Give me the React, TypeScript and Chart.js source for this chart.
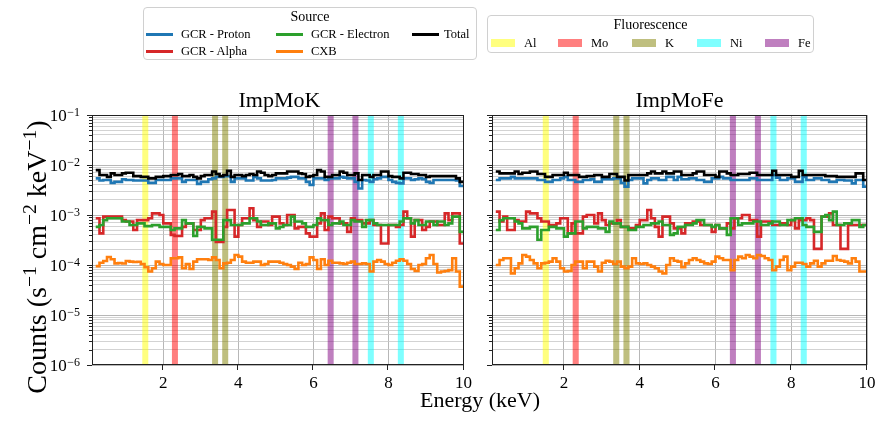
import React, { useEffect, useRef } from "react";
import { Chart, registerables } from "chart.js";

Chart.register(...registerables);

const SERIF = "'Liberation Serif', 'Times New Roman', serif";

// ---------- axes ----------
const X_MIN = 0.1;
const X_MAX = 10;
const X_TICKS = [2, 4, 6, 8, 10];
const Y_MIN = 1e-6;
const Y_MAX = 1e-1;
const Y_DECADES = [-6, -5, -4, -3, -2, -1];
const Y_MANTISSAS = [1, 2, 3, 4, 5, 6, 7, 8, 9];

// ---------- energy bins (keV): left edges 0.2 ... 9.9, width 0.1 ----------
const BIN_START = 0.2;
const BIN_WIDTH = 0.1;
const N_BINS = 98;
const ENERGY_EDGES = Array.from({ length: N_BINS + 1 }, (_, i) => Math.round((BIN_START + BIN_WIDTH * i) * 10) / 10);

// ---------- panel titles ----------
const PANEL_TITLES = ["ImpMoK", "ImpMoFe"];

// ---------- series (counts s^-1 cm^-2 keV^-1) ----------
const PROTON_K = [5.4e-3, 4.9e-3, 5.0e-3, 5.0e-3, 4.4e-3, 4.6e-3, 4.6e-3, 5.2e-3, 5.0e-3, 5.0e-3,
  4.9e-3, 4.9e-3, 4.9e-3, 4.9e-3, 4.4e-3, 4.4e-3, 5.0e-3, 5.0e-3, 5.0e-3, 5.0e-3,
  5.4e-3, 5.4e-3, 5.4e-3, 4.6e-3, 5.0e-3, 5.0e-3, 5.0e-3, 4.2e-3, 4.6e-3, 4.6e-3,
  5.2e-3, 5.4e-3, 5.8e-3, 5.8e-3, 6.0e-3, 6.0e-3, 4.6e-3, 5.4e-3, 5.4e-3, 5.4e-3,
  4.9e-3, 4.9e-3, 5.8e-3, 5.4e-3, 4.9e-3, 4.9e-3, 4.9e-3, 5.0e-3, 5.4e-3, 5.4e-3,
  5.4e-3, 5.6e-3, 5.8e-3, 5.8e-3, 5.4e-3, 5.4e-3, 4.6e-3, 4.0e-3, 5.4e-3, 5.4e-3,
  5.4e-3, 5.0e-3, 5.4e-3, 5.4e-3, 5.4e-3, 5.8e-3, 5.6e-3, 5.4e-3, 5.4e-3, 4.6e-3,
  3.4e-3, 5.0e-3, 4.9e-3, 4.6e-3, 5.2e-3, 5.4e-3, 5.8e-3, 5.8e-3, 5.0e-3, 4.6e-3,
  4.4e-3, 4.3e-3, 5.4e-3, 5.4e-3, 5.0e-3, 5.2e-3, 5.4e-3, 5.2e-3, 4.6e-3, 4.4e-3,
  5.0e-3, 5.0e-3, 5.0e-3, 5.0e-3, 5.0e-3, 5.0e-3, 4.9e-3, 3.8e-3];
const ALPHA_K = [8.6e-4, 4.3e-4, 9.3e-4, 9.3e-4, 9.3e-4, 9.3e-4, 9.3e-4, 7.9e-4, 7.4e-4, 7.4e-4,
  5.0e-4, 7.9e-4, 7.9e-4, 7.9e-4, 8.6e-4, 1.08e-3, 1.08e-3, 1.0e-3, 6.8e-4, 6.8e-4,
  4.0e-4, 3.8e-4, 3.8e-4, 5.8e-4, 6.8e-4, 6.8e-4, 5.0e-4, 5.0e-4, 7.9e-4, 8.6e-4,
  8.6e-4, 1.17e-3, 2.9e-4, 2.9e-4, 5.8e-4, 1.26e-3, 1.26e-3, 3.7e-4, 6.3e-4, 8.6e-4,
  8.6e-4, 1.36e-3, 7.9e-4, 5.8e-4, 7.4e-4, 7.4e-4, 6.3e-4, 9.3e-4, 9.3e-4, 6.8e-4,
  6.3e-4, 1.0e-3, 1.0e-3, 5.4e-4, 5.8e-4, 5.8e-4, 4.3e-4, 3.7e-4, 3.7e-4, 6.8e-4,
  1.08e-3, 5.0e-4, 9.3e-4, 8.6e-4, 8.6e-4, 6.8e-4, 6.8e-4, 4.6e-4, 8.6e-4, 7.9e-4,
  7.9e-4, 6.8e-4, 6.8e-4, 7.9e-4, 6.3e-4, 6.3e-4, 2.7e-4, 2.7e-4, 6.3e-4, 6.3e-4,
  5.8e-4, 6.3e-4, 1.17e-3, 8.6e-4, 3.7e-4, 7.9e-4, 7.9e-4, 5.0e-4, 5.8e-4, 7.4e-4,
  7.4e-4, 6.3e-4, 6.3e-4, 1.08e-3, 7.9e-4, 1.08e-3, 1.08e-3, 2.7e-4];
const ELECTRON_K = [5.8e-4, 6.3e-4, 7.9e-4, 8.6e-4, 8.6e-4, 8.6e-4, 8.6e-4, 7.4e-4, 7.4e-4, 6.3e-4,
  6.3e-4, 6.8e-4, 6.8e-4, 6.0e-4, 6.0e-4, 6.3e-4, 6.3e-4, 5.8e-4, 5.8e-4, 5.8e-4,
  5.0e-4, 5.4e-4, 5.4e-4, 7.9e-4, 6.8e-4, 6.8e-4, 3.8e-4, 5.8e-4, 5.8e-4, 5.4e-4,
  5.4e-4, 3.2e-4, 3.2e-4, 3.2e-4, 7.9e-4, 7.9e-4, 6.3e-4, 6.3e-4, 6.3e-4, 6.8e-4,
  6.8e-4, 8.6e-4, 8.6e-4, 7.4e-4, 6.3e-4, 6.3e-4, 6.8e-4, 6.8e-4, 5.4e-4, 5.8e-4,
  6.3e-4, 6.3e-4, 9.3e-4, 7.4e-4, 7.4e-4, 6.8e-4, 5.8e-4, 5.8e-4, 6.3e-4, 8.6e-4,
  7.9e-4, 7.9e-4, 6.3e-4, 6.8e-4, 6.8e-4, 7.4e-4, 6.3e-4, 6.3e-4, 7.9e-4, 7.4e-4,
  7.4e-4, 5.8e-4, 7.9e-4, 7.9e-4, 6.8e-4, 6.3e-4, 6.3e-4, 6.3e-4, 6.3e-4, 6.3e-4,
  6.3e-4, 7.4e-4, 8.6e-4, 8.6e-4, 6.8e-4, 7.9e-4, 6.3e-4, 6.3e-4, 7.4e-4, 7.4e-4,
  6.3e-4, 7.4e-4, 7.4e-4, 6.3e-4, 6.8e-4, 9.3e-4, 9.3e-4, 4.6e-4];
const CXB_K = [9.5e-5, 1.11e-4, 1.2e-4, 1.45e-4, 1.3e-4, 1.08e-4, 1.1e-4, 1.07e-4, 1.2e-4, 1.17e-4,
  1.15e-4, 1.16e-4, 1.05e-4, 9.0e-5, 7.4e-5, 8.6e-5, 1.17e-4, 1.05e-4, 1.0e-4, 1.0e-4,
  1.36e-4, 1.36e-4, 1.42e-4, 8.6e-5, 1.05e-4, 8.3e-5, 1.17e-4, 1.3e-4, 1.3e-4, 1.3e-4,
  1.26e-4, 1.42e-4, 1.26e-4, 8.6e-5, 1.08e-4, 1.11e-4, 1.26e-4, 1.58e-4, 1.47e-4, 1.17e-4,
  1.11e-4, 1.11e-4, 1.17e-4, 1.17e-4, 1.0e-4, 1.05e-4, 1.17e-4, 1.17e-4, 1.17e-4, 1.11e-4,
  1.05e-4, 1.0e-4, 9.3e-5, 8.3e-5, 1.11e-4, 1.0e-4, 1.05e-4, 1.42e-4, 1.26e-4, 8.3e-5,
  1.3e-4, 1.0e-4, 1.22e-4, 1.11e-4, 1.11e-4, 1.08e-4, 1.05e-4, 1.11e-4, 1.17e-4, 1.05e-4,
  1.05e-4, 1.08e-4, 1.05e-4, 7.4e-5, 1.17e-4, 1.26e-4, 1.17e-4, 1.05e-4, 1.0e-4, 1.11e-4,
  1.22e-4, 1.3e-4, 1.22e-4, 1.05e-4, 8.3e-5, 7.6e-5, 1.0e-4, 1.05e-4, 1.36e-4, 1.58e-4,
  1.05e-4, 7.1e-5, 7.4e-5, 7.6e-5, 7.9e-5, 1.36e-4, 7.4e-5, 3.7e-5];
const TOTAL_K = [7.9e-3, 6.3e-3, 6.3e-3, 5.8e-3, 6.8e-3, 6.3e-3, 6.3e-3, 6.8e-3, 7.0e-3, 7.0e-3,
  6.0e-3, 6.0e-3, 5.8e-3, 5.8e-3, 5.4e-3, 5.4e-3, 5.8e-3, 5.8e-3, 6.0e-3, 6.0e-3,
  6.3e-3, 6.3e-3, 6.6e-3, 6.0e-3, 6.0e-3, 6.3e-3, 5.8e-3, 5.4e-3, 6.0e-3, 6.3e-3,
  6.3e-3, 7.4e-3, 6.6e-3, 6.0e-3, 6.3e-3, 7.7e-3, 5.8e-3, 6.3e-3, 6.3e-3, 6.0e-3,
  6.3e-3, 6.6e-3, 6.3e-3, 7.4e-3, 7.0e-3, 6.3e-3, 6.0e-3, 6.3e-3, 6.8e-3, 6.8e-3,
  6.8e-3, 7.4e-3, 7.4e-3, 7.4e-3, 6.8e-3, 6.6e-3, 5.8e-3, 6.0e-3, 6.3e-3, 7.9e-3,
  7.4e-3, 5.8e-3, 5.8e-3, 6.3e-3, 6.3e-3, 7.4e-3, 7.0e-3, 6.3e-3, 6.3e-3, 6.8e-3,
  5.0e-3, 6.3e-3, 6.3e-3, 5.8e-3, 6.3e-3, 6.3e-3, 7.4e-3, 7.4e-3, 6.0e-3, 5.8e-3,
  5.8e-3, 5.4e-3, 7.0e-3, 7.0e-3, 6.6e-3, 6.6e-3, 6.3e-3, 6.3e-3, 5.8e-3, 6.0e-3,
  6.0e-3, 6.0e-3, 6.0e-3, 6.0e-3, 6.0e-3, 6.0e-3, 5.4e-3, 4.6e-3];

const PROTON_FE = [5.0e-3, 5.4e-3, 5.4e-3, 5.4e-3, 5.8e-3, 5.4e-3, 5.4e-3, 5.4e-3, 5.4e-3, 5.4e-3,
  5.4e-3, 5.0e-3, 5.0e-3, 4.6e-3, 4.6e-3, 5.0e-3, 5.0e-3, 5.4e-3, 5.8e-3, 5.0e-3,
  5.0e-3, 4.6e-3, 4.6e-3, 5.0e-3, 5.0e-3, 5.2e-3, 4.6e-3, 4.6e-3, 5.2e-3, 5.2e-3,
  5.2e-3, 5.4e-3, 5.4e-3, 4.4e-3, 3.7e-3, 5.0e-3, 5.4e-3, 5.4e-3, 5.4e-3, 4.3e-3,
  5.0e-3, 5.4e-3, 5.4e-3, 5.0e-3, 5.0e-3, 5.8e-3, 5.8e-3, 5.0e-3, 5.8e-3, 5.2e-3,
  5.2e-3, 5.4e-3, 5.4e-3, 5.0e-3, 5.0e-3, 4.6e-3, 4.6e-3, 5.4e-3, 5.4e-3, 5.8e-3,
  5.4e-3, 5.4e-3, 5.0e-3, 5.0e-3, 5.0e-3, 5.0e-3, 5.0e-3, 5.4e-3, 5.4e-3, 5.0e-3,
  5.0e-3, 5.0e-3, 5.0e-3, 6.3e-3, 5.6e-3, 5.0e-3, 5.0e-3, 5.4e-3, 5.4e-3, 4.6e-3,
  4.6e-3, 5.8e-3, 5.0e-3, 5.0e-3, 5.4e-3, 5.4e-3, 5.0e-3, 5.0e-3, 4.6e-3, 4.6e-3,
  5.0e-3, 5.0e-3, 4.9e-3, 4.9e-3, 4.3e-3, 5.0e-3, 5.0e-3, 3.7e-3];
const ALPHA_FE = [1.17e-3, 7.4e-4, 9.3e-4, 5.0e-4, 5.0e-4, 7.9e-4, 7.4e-4, 7.4e-4, 1.17e-3, 1.08e-3,
  1.08e-3, 8.6e-4, 7.4e-4, 7.4e-4, 6.3e-4, 6.3e-4, 6.8e-4, 8.6e-4, 8.6e-4, 4.3e-4,
  6.8e-4, 4.3e-4, 4.3e-4, 9.3e-4, 1.0e-3, 1.0e-3, 6.8e-4, 1.08e-3, 7.9e-4, 6.3e-4,
  6.8e-4, 6.8e-4, 7.9e-4, 5.8e-4, 5.8e-4, 5.4e-4, 5.4e-4, 6.3e-4, 7.9e-4, 7.9e-4,
  1.26e-3, 8.6e-4, 5.8e-4, 3.7e-4, 9.3e-4, 9.3e-4, 6.8e-4, 5.4e-4, 5.4e-4, 4.3e-4,
  6.8e-4, 6.8e-4, 7.4e-4, 7.4e-4, 6.3e-4, 6.3e-4, 6.3e-4, 4.6e-4, 6.3e-4, 5.4e-4,
  5.4e-4, 6.8e-4, 5.4e-4, 8.6e-4, 8.6e-4, 1.0e-3, 1.0e-3, 7.9e-4, 7.9e-4, 3.7e-4,
  7.4e-4, 7.4e-4, 7.4e-4, 6.3e-4, 6.3e-4, 6.8e-4, 6.8e-4, 6.3e-4, 7.9e-4, 5.4e-4,
  7.9e-4, 7.9e-4, 8.6e-4, 7.9e-4, 2.1e-4, 2.1e-4, 9.3e-4, 9.3e-4, 1.08e-3, 6.3e-4,
  6.3e-4, 2.1e-4, 2.1e-4, 6.3e-4, 6.3e-4, 6.3e-4, 6.3e-4, 6.3e-4];
const ELECTRON_FE = [5.0e-4, 7.9e-4, 8.6e-4, 8.6e-4, 8.6e-4, 7.4e-4, 6.8e-4, 5.4e-4, 5.4e-4, 5.8e-4,
  5.8e-4, 3.2e-4, 5.0e-4, 5.0e-4, 5.8e-4, 5.8e-4, 5.4e-4, 5.4e-4, 3.7e-4, 4.3e-4,
  4.3e-4, 7.4e-4, 7.4e-4, 5.4e-4, 5.8e-4, 5.8e-4, 5.8e-4, 5.4e-4, 5.4e-4, 4.6e-4,
  7.4e-4, 6.8e-4, 6.8e-4, 5.8e-4, 5.8e-4, 5.0e-4, 5.0e-4, 5.8e-4, 5.8e-4, 6.3e-4,
  6.3e-4, 6.8e-4, 6.8e-4, 7.4e-4, 6.3e-4, 6.3e-4, 4.0e-4, 4.3e-4, 5.8e-4, 5.8e-4,
  6.3e-4, 6.3e-4, 6.8e-4, 7.9e-4, 7.9e-4, 6.3e-4, 6.3e-4, 5.8e-4, 6.3e-4, 5.4e-4,
  5.4e-4, 4.0e-4, 8.6e-4, 8.6e-4, 6.3e-4, 6.8e-4, 6.8e-4, 6.8e-4, 7.4e-4, 7.4e-4,
  6.3e-4, 6.3e-4, 6.8e-4, 7.4e-4, 7.4e-4, 6.3e-4, 6.3e-4, 7.9e-4, 7.9e-4, 8.6e-4,
  8.6e-4, 6.3e-4, 5.8e-4, 5.8e-4, 4.6e-4, 4.6e-4, 9.3e-4, 1.0e-3, 7.9e-4, 1.17e-3,
  6.3e-4, 6.3e-4, 6.8e-4, 6.8e-4, 7.9e-4, 7.9e-4, 5.8e-4, 6.3e-4];
const CXB_FE = [1.0e-4, 1.26e-4, 1.36e-4, 1.36e-4, 6.8e-5, 8.6e-5, 1.08e-4, 1.58e-4, 1.47e-4, 1.26e-4,
  1.08e-4, 8.6e-5, 1.08e-4, 1.11e-4, 1.17e-4, 1.36e-4, 1.17e-4, 8.6e-5, 7.4e-5, 7.6e-5,
  1.0e-4, 1.17e-4, 1.17e-4, 8.6e-5, 1.17e-4, 1.17e-4, 9.3e-5, 7.4e-5, 1.11e-4, 1.22e-4,
  1.17e-4, 1.05e-4, 1.17e-4, 9.3e-5, 8.6e-5, 9.3e-5, 1.36e-4, 1.08e-4, 1.05e-4, 1.08e-4,
  1.0e-4, 9.3e-5, 8.6e-5, 7.4e-5, 6.8e-5, 1.0e-4, 1.36e-4, 1.22e-4, 1.17e-4, 9.0e-5,
  1.08e-4, 1.26e-4, 1.36e-4, 1.26e-4, 1.17e-4, 1.08e-4, 1.05e-4, 1.17e-4, 1.47e-4, 1.36e-4,
  1.26e-4, 1.26e-4, 7.9e-5, 1.26e-4, 1.47e-4, 1.36e-4, 1.58e-4, 1.47e-4, 1.36e-4, 1.58e-4,
  1.51e-4, 1.36e-4, 1.26e-4, 7.9e-5, 9.3e-5, 1.26e-4, 1.47e-4, 7.9e-5, 9.3e-5, 1.11e-4,
  1.11e-4, 1.05e-4, 9.3e-5, 1.08e-4, 1.22e-4, 9.3e-5, 1.08e-4, 1.22e-4, 1.22e-4, 1.51e-4,
  1.26e-4, 1.22e-4, 1.17e-4, 1.08e-4, 1.36e-4, 1.17e-4, 7.4e-5, 7.4e-5];
const TOTAL_FE = [7.4e-3, 6.8e-3, 6.8e-3, 6.8e-3, 6.8e-3, 7.4e-3, 6.6e-3, 7.0e-3, 7.0e-3, 7.4e-3,
  7.4e-3, 6.6e-3, 6.6e-3, 5.8e-3, 5.8e-3, 6.3e-3, 6.3e-3, 6.3e-3, 7.0e-3, 6.3e-3,
  6.3e-3, 6.3e-3, 5.8e-3, 5.8e-3, 6.0e-3, 6.0e-3, 6.3e-3, 6.3e-3, 5.8e-3, 5.8e-3,
  6.6e-3, 6.6e-3, 5.8e-3, 5.8e-3, 4.9e-3, 6.3e-3, 6.3e-3, 6.3e-3, 6.3e-3, 6.3e-3,
  6.8e-3, 7.4e-3, 6.8e-3, 6.8e-3, 7.4e-3, 6.8e-3, 6.8e-3, 7.4e-3, 7.4e-3, 6.3e-3,
  6.3e-3, 6.3e-3, 6.8e-3, 7.4e-3, 7.4e-3, 6.3e-3, 6.3e-3, 6.3e-3, 5.8e-3, 7.4e-3,
  7.4e-3, 6.8e-3, 6.3e-3, 6.3e-3, 6.6e-3, 6.6e-3, 6.6e-3, 7.0e-3, 7.0e-3, 6.3e-3,
  6.3e-3, 6.3e-3, 6.3e-3, 7.7e-3, 6.3e-3, 6.3e-3, 6.3e-3, 6.3e-3, 5.8e-3, 5.8e-3,
  7.7e-3, 6.3e-3, 6.3e-3, 6.3e-3, 6.3e-3, 6.3e-3, 6.3e-3, 6.0e-3, 6.0e-3, 6.0e-3,
  5.8e-3, 5.8e-3, 5.8e-3, 5.8e-3, 5.8e-3, 6.8e-3, 6.8e-3, 5.0e-3];

// ---------- source legend ----------
const SOURCE_LABELS = ["GCR - Proton", "GCR - Alpha", "GCR - Electron", "CXB", "Total"];
const SOURCE_COLORS = ["#1f77b4", "#d62728", "#2ca02c", "#ff7f0e", "#000000"];
const SOURCE_ORDER = [4, 3, 2, 1, 0];

// ---------- fluorescence lines (keV) ----------
const FLUOR_NAMES = ["Al", "Mo", "K", "Ni", "Fe"];
const FLUOR_LINES = [[1.52], [2.31], [3.38, 3.65], [7.53, 8.33], [6.46, 7.12]];
const FLUOR_FILL = ["rgba(255,255,0,0.5)", "rgba(255,0,0,0.5)", "rgba(128,128,0,0.5)", "rgba(0,255,255,0.5)", "rgba(128,0,128,0.5)"];
const BAND_HALF_WIDTH = 0.08;

const PANEL_SERIES = [
  [PROTON_K, ALPHA_K, ELECTRON_K, CXB_K, TOTAL_K],
  [PROTON_FE, ALPHA_FE, ELECTRON_FE, CXB_FE, TOTAL_FE],
];

const Y_TICKS: number[] = [];
Y_DECADES.forEach((e) => {
  Y_MANTISSAS.forEach((m) => {
    const v = m * Math.pow(10, e);
    if (v <= Y_MAX * 1.0001) Y_TICKS.push(v);
  });
});
const isMajor = (v: number) => Math.abs(Math.log10(v) - Math.round(Math.log10(v))) < 1e-6;

const toSteps = (vals: number[]) =>
  ENERGY_EDGES.map((x, i) => ({ x, y: vals[Math.min(i, vals.length - 1)] }));

const GRID_MAJOR = "rgba(170,170,170,0.85)";
const GRID_MINOR = "rgba(200,200,200,0.8)";
const AXIS_COLOR = "#222";

function decoPlugin(showYLabels: boolean) {
  return {
    id: "panelDeco",
    beforeDatasetsDraw(chart: any) {
      const { ctx, chartArea: a, scales } = chart;
      const xs = scales.x;
      ctx.save();
      ctx.beginPath();
      ctx.rect(a.left, a.top, a.right - a.left, a.bottom - a.top);
      ctx.clip();
      FLUOR_LINES.forEach((lines, k) => {
        ctx.fillStyle = FLUOR_FILL[k];
        lines.forEach((c) => {
          const x0 = xs.getPixelForValue(c - BAND_HALF_WIDTH);
          const x1 = xs.getPixelForValue(c + BAND_HALF_WIDTH);
          ctx.fillRect(x0, a.top, x1 - x0, a.bottom - a.top);
        });
      });
      ctx.restore();
    },
    afterDatasetsDraw(chart: any) {
      const { ctx, chartArea: a, scales } = chart;
      const xs = scales.x;
      const ys = scales.y;
      ctx.save();
      ctx.strokeStyle = AXIS_COLOR;
      ctx.lineWidth = 1;
      ctx.strokeRect(Math.round(a.left) + 0.5, Math.round(a.top) + 0.5, Math.round(a.right - a.left) - 1, Math.round(a.bottom - a.top) - 1);
      ctx.beginPath();
      Y_TICKS.forEach((v) => {
        const y = Math.round(ys.getPixelForValue(v)) + 0.5;
        const len = isMajor(v) ? 5 : 3;
        ctx.moveTo(a.left - len, y);
        ctx.lineTo(a.left, y);
      });
      X_TICKS.forEach((v) => {
        const x = Math.round(xs.getPixelForValue(v)) - 0.5;
        ctx.moveTo(x, a.bottom);
        ctx.lineTo(x, a.bottom + 5);
      });
      ctx.stroke();
      if (showYLabels) {
        ctx.fillStyle = "#000";
        ctx.textAlign = "right";
        ctx.textBaseline = "alphabetic";
        Y_DECADES.forEach((e) => {
          const y = ys.getPixelForValue(Math.pow(10, e));
          const sup = "\u2212" + String(-e);
          ctx.font = `12px ${SERIF}`;
          const sw = ctx.measureText(sup).width;
          const xr = a.left - 12;
          ctx.fillText(sup, xr, y + 0.5);
          ctx.font = `17px ${SERIF}`;
          ctx.fillText("10", xr - sw - 0.5, y + 6);
        });
      }
      ctx.restore();
    },
  };
}

type PanelProps = { left: number; width: number; padRight: number; yWidth: number; showYLabels: boolean; series: number[][] };

function Panel({ left, width, padRight, yWidth, showYLabels, series }: PanelProps) {
  const ref = useRef<HTMLCanvasElement | null>(null);
  useEffect(() => {
    if (!ref.current) return;
    const chart = new Chart(ref.current, {
      type: "line",
      data: {
        datasets: SOURCE_LABELS.map((label, k) => ({
          label,
          data: toSteps(series[k]),
          borderColor: SOURCE_COLORS[k],
          backgroundColor: SOURCE_COLORS[k],
          borderWidth: 2.6,
          pointRadius: 0,
          stepped: true,
          fill: false,
          tension: 0,
          order: SOURCE_ORDER[k],
          borderJoinStyle: "miter",
        })),
      },
      options: {
        responsive: false,
        animation: false,
        devicePixelRatio: 1,
        events: [],
        layout: { padding: { left: 0, right: padRight, top: 115, bottom: 17 } },
        plugins: { legend: { display: false }, tooltip: { enabled: false }, title: { display: false } },
        scales: {
          x: {
            type: "linear",
            min: X_MIN,
            max: X_MAX,
            afterBuildTicks: (s: any) => {
              s.ticks = X_TICKS.map((v) => ({ value: v }));
            },
            afterFit: (s: any) => {
              s.height = 40;
            },
            grid: { color: GRID_MAJOR, lineWidth: 1, drawTicks: false },
            border: { display: false },
            ticks: {
              font: { family: SERIF, size: 17 },
              color: "#000",
              padding: 8,
              maxRotation: 0,
              autoSkip: false,
              callback: (v: any) => String(v),
            },
          },
          y: {
            type: "logarithmic",
            min: Y_MIN,
            max: Y_MAX,
            afterBuildTicks: (s: any) => {
              s.ticks = Y_TICKS.map((v) => ({ value: v, major: isMajor(v) }));
            },
            afterFit: (s: any) => {
              s.width = yWidth;
            },
            grid: {
              color: (c: any) => (c.tick && isMajor(c.tick.value) ? GRID_MAJOR : GRID_MINOR),
              lineWidth: 1,
              drawTicks: false,
            },
            border: { display: false },
            ticks: { display: false },
          },
        },
      } as any,
      plugins: [decoPlugin(showYLabels)],
    });
    return () => chart.destroy();
  }, []);
  return (
    <canvas
      ref={ref}
      width={width}
      height={422}
      style={{ position: "absolute", left, top: 0, width, height: 422 }}
    />
  );
}

const abs = (l: number, t: number, extra: any = {}) => ({ position: "absolute" as const, left: l, top: t, ...extra });

function SourceLegend() {
  const entries = [
    { k: 0, lx: 146, ly: 34, tx: 181 },
    { k: 2, lx: 276, ly: 34, tx: 311 },
    { k: 4, lx: 412, ly: 34, tx: 444 },
    { k: 1, lx: 146, ly: 51, tx: 181 },
    { k: 3, lx: 276, ly: 51, tx: 311 },
  ];
  return (
    <>
      <div style={abs(143, 7, { width: 334, height: 53, border: "1px solid #d0d0d0", borderRadius: 4, boxSizing: "border-box" })} />
      <div style={abs(143, 8, { width: 334, textAlign: "center", fontSize: 14, lineHeight: "18px" })}>Source</div>
      {entries.map((e) => (
        <React.Fragment key={e.k}>
          <div style={abs(e.lx, e.ly - 1.5, { width: 27, height: 3, background: SOURCE_COLORS[e.k] })} />
          <div style={abs(e.tx, e.ly - 9, { fontSize: 12.5, lineHeight: "18px", whiteSpace: "nowrap" })}>{SOURCE_LABELS[e.k]}</div>
        </React.Fragment>
      ))}
    </>
  );
}

function FluorLegend() {
  const swatchX = [491, 558, 632, 697, 765];
  return (
    <>
      <div style={abs(487, 15, { width: 327, height: 38, border: "1px solid #d0d0d0", borderRadius: 4, boxSizing: "border-box" })} />
      <div style={abs(487, 16, { width: 327, textAlign: "center", fontSize: 14, lineHeight: "18px" })}>Fluorescence</div>
      {FLUOR_NAMES.map((n, k) => (
        <React.Fragment key={n}>
          <div style={abs(swatchX[k], 38.5, { width: 24, height: 8, background: FLUOR_FILL[k] })} />
          <div style={abs(swatchX[k] + 33, 33.5, { fontSize: 12.5, lineHeight: "18px" })}>{n}</div>
        </React.Fragment>
      ))}
    </>
  );
}

export default function App() {
  return (
    <div
      style={{
        position: "fixed",
        left: 0,
        top: 0,
        width: 876,
        height: 422,
        overflow: "hidden",
        background: "#fff",
        fontFamily: SERIF,
        color: "#000",
      }}
    >
      <Panel left={0} width={480} padRight={13} yWidth={92} showYLabels={true} series={PANEL_SERIES[0]} />
      <Panel left={476} width={420} padRight={29} yWidth={16} showYLabels={false} series={PANEL_SERIES[1]} />
      <div style={abs(179.5, 88, { width: 200, textAlign: "center", fontSize: 22, lineHeight: "24px" })}>{PANEL_TITLES[0]}</div>
      <div style={abs(579.5, 88, { width: 200, textAlign: "center", fontSize: 22, lineHeight: "24px" })}>{PANEL_TITLES[1]}</div>
      <div style={abs(380, 388, { width: 200, textAlign: "center", fontSize: 22, lineHeight: "24px" })}>Energy (keV)</div>
      <div
        style={abs(29.5 - 170, 256.5 - 15, {
          width: 340,
          height: 30,
          lineHeight: "30px",
          textAlign: "center",
          fontSize: 28,
          transform: "rotate(-90deg)",
          whiteSpace: "nowrap",
        })}
      >
        Counts (s<span style={{ fontSize: "0.7em", verticalAlign: "0.5em" }}>−1</span> cm
        <span style={{ fontSize: "0.7em", verticalAlign: "0.5em" }}>−2</span> keV
        <span style={{ fontSize: "0.7em", verticalAlign: "0.5em" }}>−1</span>)
      </div>
      <SourceLegend />
      <FluorLegend />
    </div>
  );
}
